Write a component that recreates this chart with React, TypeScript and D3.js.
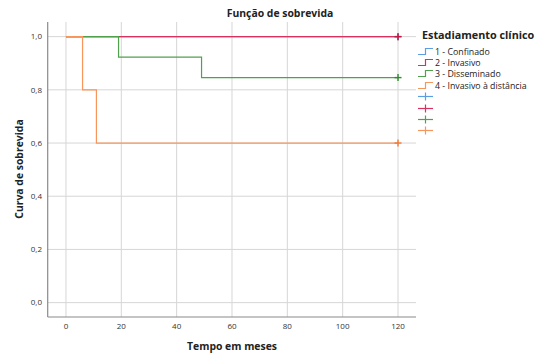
import React from 'react';
import * as d3 from 'd3';

const W = 538;
const H = 359;

const groupLabels = ['1 - Confinado', '2 - Invasivo', '3 - Disseminado', '4 - Invasivo à distância'];
const groupColors = ['#5a9fe4', '#d9305f', '#4fa24b', '#f7955a'];
const censorColors = ['#3d86d6', '#c8173f', '#2f8a2e', '#f17a35'];

// step curves: time (months) and cumulative survival
const times1 = [0, 120];
const surv1 = [1, 1];
const times2 = [0, 120];
const surv2 = [1, 1];
const times3 = [0, 19, 49, 120];
const surv3 = [1, 0.923, 0.846, 0.846];
const times4 = [0, 6, 11, 120];
const surv4 = [1, 0.8, 0.6, 0.6];

const censorTimes = [120, 120, 120, 120];

const xTicks = [0, 20, 40, 60, 80, 100, 120];
const yTicks = [0, 0.2, 0.4, 0.6, 0.8, 1.0];

const series = [
  { t: times1, s: surv1 },
  { t: times2, s: surv2 },
  { t: times3, s: surv3 },
  { t: times4, s: surv4 },
];

const font = '"Open Sans", sans-serif';

const App = () => {
  const x = d3.scaleLinear().domain([-6.6, 126.5]).range([47.7, 416]);
  const y = d3.scaleLinear().domain([-0.054, 1.055]).range([317, 22]);

  const line = d3.line<[number, number]>()
    .x(d => x(d[0]))
    .y(d => y(d[1]))
    .curve(d3.curveStepAfter);

  const fmt = (v: number) => v.toFixed(1).replace('.', ',');

  return (
    <svg width={W} height={H} style={{ position: 'absolute', left: 0, top: 0, background: '#fff' }}>
      {/* grid */}
      {xTicks.map(t => (
        <line key={'gx' + t} x1={x(t)} x2={x(t)} y1={y.range()[1]} y2={y.range()[0]} stroke="#d6d6d6" strokeWidth={1} />
      ))}
      {yTicks.map(t => (
        <line key={'gy' + t} x1={x.range()[0]} x2={x.range()[1]} y1={y(t)} y2={y(t)} stroke="#d6d6d6" strokeWidth={1} />
      ))}

      {/* axes */}
      <line x1={x.range()[0]} x2={x.range()[0]} y1={y.range()[1]} y2={y.range()[0]} stroke="#8a8a8a" strokeWidth={1.2} />
      <line x1={x.range()[0]} x2={x.range()[1]} y1={y.range()[0]} y2={y.range()[0]} stroke="#8a8a8a" strokeWidth={1.2} />

      {yTicks.map(t => (
        <text key={'ty' + t} x={42} y={y(t)} dy="0.35em" textAnchor="end" fontSize={8} fill="#333" fontFamily={font}>
          {fmt(t)}
        </text>
      ))}
      {xTicks.map(t => (
        <text key={'tx' + t} x={x(t)} y={326} dy="0.35em" textAnchor="middle" fontSize={8} fill="#333" fontFamily={font}>
          {t}
        </text>
      ))}

      {/* curves */}
      {series.map((d, i) => (
        <path key={'c' + i} d={line(d.t.map((t, j) => [t, d.s[j]] as [number, number])) || ''} fill="none" stroke={groupColors[i]} strokeWidth={1.2} />
      ))}

      {/* censor marks */}
      {series.map((d, i) => {
        const cx = x(censorTimes[i]);
        const cy = y(d.s[d.s.length - 1]);
        return (
          <g key={'cm' + i} stroke={censorColors[i]} strokeWidth={1.4}>
            <line x1={cx - 3.5} x2={cx + 3.5} y1={cy} y2={cy} />
            <line x1={cx} x2={cx} y1={cy - 3.5} y2={cy + 3.5} />
          </g>
        );
      })}

      {/* titles */}
      <text x={280} y={17} textAnchor="middle" fontSize={10.4} fontWeight="bold" fill="#222" fontFamily={font}>
        Função de sobrevida
      </text>
      <text x={232} y={350} textAnchor="middle" fontSize={10.4} fontWeight="bold" fill="#222" fontFamily={font}>
        Tempo em meses
      </text>
      <text transform="translate(23,169) rotate(-90)" textAnchor="middle" fontSize={10.4} fontWeight="bold" fill="#222" fontFamily={font}>
        Curva de sobrevida
      </text>

      {/* legend */}
      <text x={422} y={39} fontSize={10.8} fontWeight="bold" fill="#222" fontFamily={font}>
        Estadiamento clínico
      </text>
      {groupLabels.map((lab, i) => {
        const ly = Math.round(50.5 + i * 11.4) + 0.5;
        return (
          <g key={'lg' + i}>
            <path d={`M418,${ly + 3}H425.5V${ly - 3}H433`} fill="none" stroke={groupColors[i]} strokeWidth={1.2} />
            <text x={435} y={ly} dy="0.35em" fontSize={8.8} fill="#222" fontFamily={font}>{lab}</text>
          </g>
        );
      })}
      {groupLabels.map((lab, i) => {
        const ly = Math.round(50.5 + (i + 4) * 11.4) + 0.5;
        return (
          <g key={'lc' + i} stroke={groupColors[i]} strokeWidth={1.2}>
            <line x1={418} x2={433} y1={ly} y2={ly} />
            <line x1={425.5} x2={425.5} y1={ly - 4} y2={ly + 4} />
          </g>
        );
      })}
    </svg>
  );
};

export default App;
